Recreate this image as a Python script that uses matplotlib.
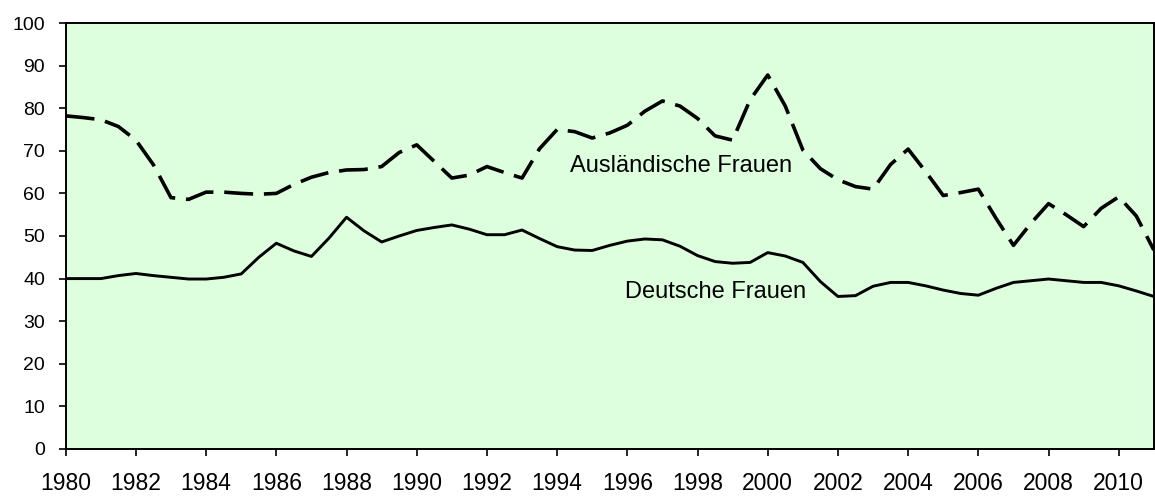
import numpy as np
import matplotlib
matplotlib.use("Agg")
import matplotlib.pyplot as plt

# half-year steps, 1980 to 2011
years = np.arange(1980, 2011.01, 0.5)

deutsche = [
    40.0, 40.0, 40.0, 40.7, 41.2, 40.7, 40.3, 39.9, 39.9, 40.3,
    41.1, 45.0, 48.3, 46.5, 45.2, 49.5, 54.4, 51.2, 48.6, 50.0,
    51.3, 52.0, 52.6, 51.6, 50.3, 50.3, 51.4, 49.4, 47.5, 46.7,
    46.6, 47.8, 48.8, 49.3, 49.1, 47.6, 45.4, 44.0, 43.6, 43.8,
    46.1, 45.3, 43.8, 39.3, 35.8, 36.0, 38.2, 39.1, 39.1, 38.3,
    37.3, 36.5, 36.1, 37.7, 39.1, 39.5, 39.9, 39.5, 39.1, 39.1,
    38.3, 37.1, 35.8,
]

auslaendische = [
    78.2, 77.8, 77.3, 75.7, 72.5, 66.7, 59.0, 58.6, 60.3, 60.3,
    60.0, 59.8, 60.0, 62.1, 63.8, 64.9, 65.5, 65.6, 66.3, 69.6,
    71.4, 67.5, 63.6, 64.3, 66.3, 64.9, 63.6, 70.5, 75.0, 74.5,
    73.0, 74.2, 76.0, 79.3, 81.7, 80.5, 77.6, 73.5, 72.5, 82.0,
    87.8, 80.5, 70.2, 65.8, 63.2, 61.6, 61.0, 66.8, 70.4, 65.1,
    59.5, 60.2, 61.0, 54.2, 47.8, 53.0, 57.6, 55.0, 52.2, 56.5,
    59.2, 54.7, 46.7,
]

xticks = list(range(1980, 2011, 2))
yticks = list(range(0, 101, 10))

plt.rcParams["font.family"] = ["Liberation Sans", "DejaVu Sans"]

fig = plt.figure(figsize=(11.55, 4.96), dpi=100)
ax = fig.add_axes([0.0569, 0.0948, 0.9421, 0.8588])
ax.set_facecolor("#DDFFDD")

ax.plot(years, auslaendische, color="black", lw=2.6, ls=(0, (8, 3)),
        solid_joinstyle="round", dash_joinstyle="round")
ax.plot(years, deutsche, color="black", lw=2.1, solid_joinstyle="round")

ax.text(1994.37, 65.1, "Ausländische Frauen", fontsize=17, va="baseline", ha="left")
ax.text(1995.93, 35.4, "Deutsche Frauen", fontsize=17, va="baseline", ha="left")

ax.set_xlim(1980, 2011)
ax.set_ylim(0, 100)
ax.set_xticks(xticks)
ax.set_yticks(yticks)
ax.tick_params(axis="both", direction="out", length=5, width=1.2, color="black")
ax.tick_params(axis="x", pad=11.5, labelsize=16.5)
ax.tick_params(axis="y", pad=10, labelsize=14)
for s in ax.spines.values():
    s.set_linewidth(1.4)
    s.set_color("black")

fig.savefig("out.png", dpi=100)
